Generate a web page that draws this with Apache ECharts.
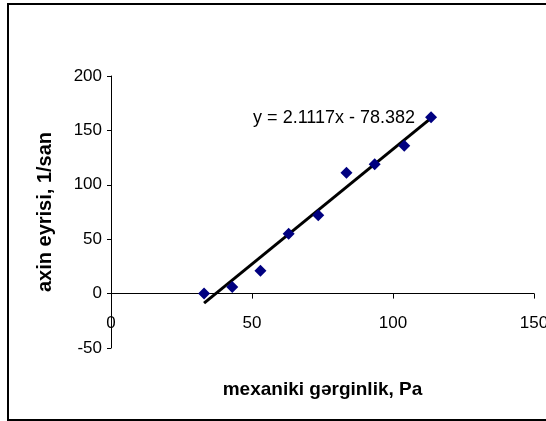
<!DOCTYPE html>
<html>
<head>
<meta charset="utf-8">
<script src="https://cdn.jsdelivr.net/npm/echarts@6/dist/echarts.min.js"></script>
<style>
html,body{margin:0;padding:0;background:#fff;}
#chart{width:546px;height:421px;}
</style>
</head>
<body>
<div id="chart"></div>
<script>
// Data
var stressPa = [33, 43, 53, 63, 73.5, 83.5, 93.5, 104, 113.5];
var flowCurve = [0, 6, 21, 55, 72, 111, 119, 136, 162];
var trendSlope = 2.1117;
var trendIntercept = -78.382;
var trendLabel = 'y = 2.1117x - 78.382';
var xTitle = 'mexaniki gərginlik, Pa';
var yTitle = 'axin eyrisi, 1/san';

var xMinData = Math.min.apply(null, stressPa);
var xMaxData = Math.max.apply(null, stressPa);
var trendData = [
  [xMinData, trendSlope * xMinData + trendIntercept],
  [xMaxData, trendSlope * xMaxData + trendIntercept]
];

var font = 'Liberation Sans, Arial, sans-serif';
var chart = echarts.init(document.getElementById('chart'), null, {renderer: 'canvas'});
chart.setOption({
  animation: false,
  backgroundColor: '#fff',
  grid: {left: 111, right: 12, top: 76, bottom: 73, containLabel: false, outerBoundsMode: 'none'},
  graphic: [
    {type: 'rect', shape: {x: 8, y: 4, width: 560, height: 416}, style: {fill: 'none', stroke: '#000', lineWidth: 2}, z: -1}
  ],
  xAxis: {
    type: 'value', min: 0, max: 150, interval: 50,
    name: xTitle, nameLocation: 'middle', nameGap: 32,
    nameTextStyle: {fontFamily: font, fontSize: 19, fontWeight: 'bold', color: '#000'},
    axisLine: {show: true, onZero: true, lineStyle: {color: '#000', width: 1}},
    axisTick: {show: true, inside: false, length: 5, lineStyle: {color: '#000'}},
    axisLabel: {fontFamily: font, fontSize: 17, color: '#000', margin: -33, showMinLabel: true, showMaxLabel: true},
    splitLine: {show: false}
  },
  yAxis: {
    type: 'value', min: -50, max: 200, interval: 50,
    name: yTitle, nameLocation: 'middle', nameGap: 56,
    nameTextStyle: {fontFamily: font, fontSize: 20, fontWeight: 'bold', color: '#000'},
    axisLine: {show: true, onZero: false, lineStyle: {color: '#000', width: 1}},
    axisTick: {show: true, inside: false, length: 4, lineStyle: {color: '#000'}},
    axisLabel: {fontFamily: font, fontSize: 17, color: '#000', margin: 9},
    splitLine: {show: false}
  },
  series: [
    {
      type: 'line', data: trendData, symbol: 'none', z: 2,
      lineStyle: {color: '#000', width: 3},
      markPoint: {
        symbol: 'circle', symbolSize: 0,
        data: [{coord: trendData[1], value: trendLabel}],
        label: {show: true, position: 'left', distance: 16, formatter: trendLabel,
          fontFamily: font, fontSize: 18, color: '#000'}
      }
    },
    {
      type: 'scatter', data: stressPa.map(function (x, i) { return [x, flowCurve[i]]; }),
      symbol: 'diamond', symbolSize: 12, z: 3,
      itemStyle: {color: '#000080', opacity: 1}
    }
  ]
});
</script>
</body>
</html>
